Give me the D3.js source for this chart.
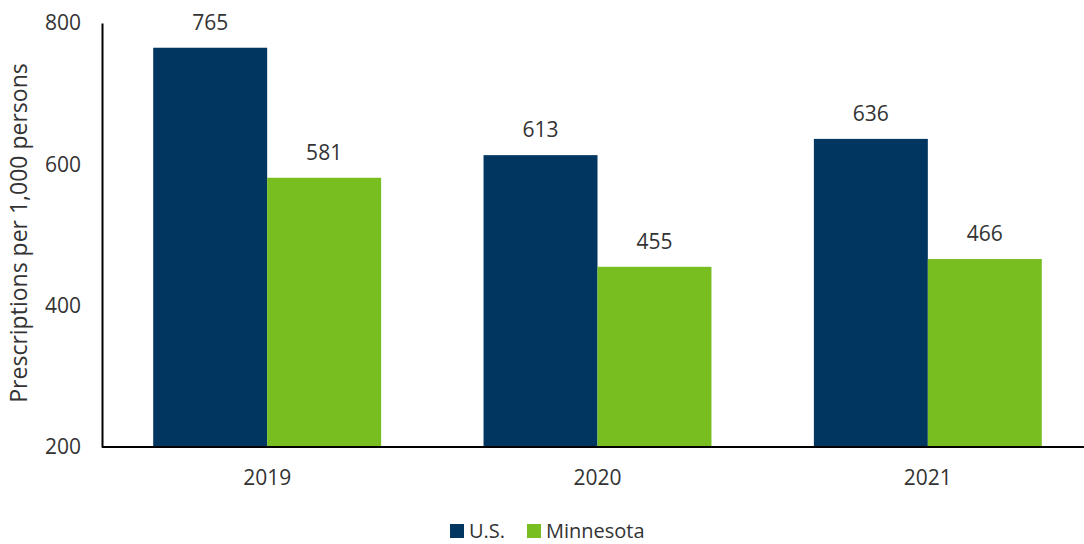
<!DOCTYPE html>
<html><head><meta charset="utf-8">
<script src="https://cdn.jsdelivr.net/npm/d3@7"></script>
<style>body{margin:0;background:#fff}svg{display:block}text{font-family:"Open Sans",Lato,sans-serif;fill:#333}</style>
</head><body>
<script>
const categories = ["2019", "2020", "2021"];
const seriesNames = ["U.S.", "Minnesota"];
const usValues = [765, 613, 636];
const mnValues = [581, 455, 466];
const yTicks = [200, 400, 600, 800];
const colors = ["#003660", "#78BE20"];

const W = 1084, H = 544;
const svg = d3.select("body").append("svg").attr("width", W).attr("height", H);
const x0 = d3.scaleBand().domain(categories).range([102, 1093]).paddingInner(0.31).paddingOuter(0.155);
const x1 = d3.scaleBand().domain(seriesNames).range([0, x0.bandwidth()]);
const y = d3.scaleLinear().domain([200, 800]).range([447, 23]);

const data = categories.map((c, i) => ({cat: c, vals: [usValues[i], mnValues[i]]}));

const g = svg.selectAll("g.grp").data(data).join("g").attr("transform", d => `translate(${x0(d.cat)},0)`);
g.selectAll("rect").data(d => d.vals.map((v, j) => ({v, s: seriesNames[j], j})))
  .join("rect")
  .attr("x", d => x1(d.s)).attr("width", x1.bandwidth())
  .attr("y", d => y(d.v)).attr("height", d => y(200) - y(d.v))
  .attr("fill", d => colors[d.j]);
g.selectAll("text.lbl").data(d => d.vals.map((v, j) => ({v, s: seriesNames[j]})))
  .join("text").attr("class", "lbl")
  .attr("x", d => x1(d.s) + x1.bandwidth() / 2).attr("y", d => y(d.v) - 18)
  .attr("text-anchor", "middle").style("font-size", "21px").text(d => d.v);

// y axis
const ya = svg.append("g").attr("transform", "translate(102,0)")
  .call(d3.axisLeft(y).tickValues(yTicks).tickSize(0).tickPadding(21));
ya.select(".domain").attr("stroke", "#000").attr("stroke-width", 2);
ya.selectAll("text").style("font-size", "21px").attr("fill", "#333");

// x axis
const xa = svg.append("g").attr("transform", "translate(0,447)")
  .call(d3.axisBottom(x0).tickSize(0).tickPadding(23));
xa.select(".domain").attr("stroke", "#000").attr("stroke-width", 2).attr("d", "M102,0H1084");
xa.selectAll("text").style("font-size", "21px").attr("fill", "#333");

svg.append("text").attr("transform", "translate(27,233) rotate(-90)")
  .attr("text-anchor", "middle").style("font-size", "23px").attr("fill", "#000")
  .text("Prescriptions per 1,000 persons");

// legend
const leg = svg.append("g").attr("transform", "translate(450,531)");
const items = [{n: seriesNames[0], c: colors[0], x: 0}, {n: seriesNames[1], c: colors[1], x: 77}];
items.forEach(it => {
  leg.append("rect").attr("x", it.x).attr("y", -7).attr("width", 14).attr("height", 14).attr("fill", it.c);
  leg.append("text").attr("x", it.x + 19).attr("y", 7).style("font-size", "20px").text(it.n);
});
</script>
</body></html>
